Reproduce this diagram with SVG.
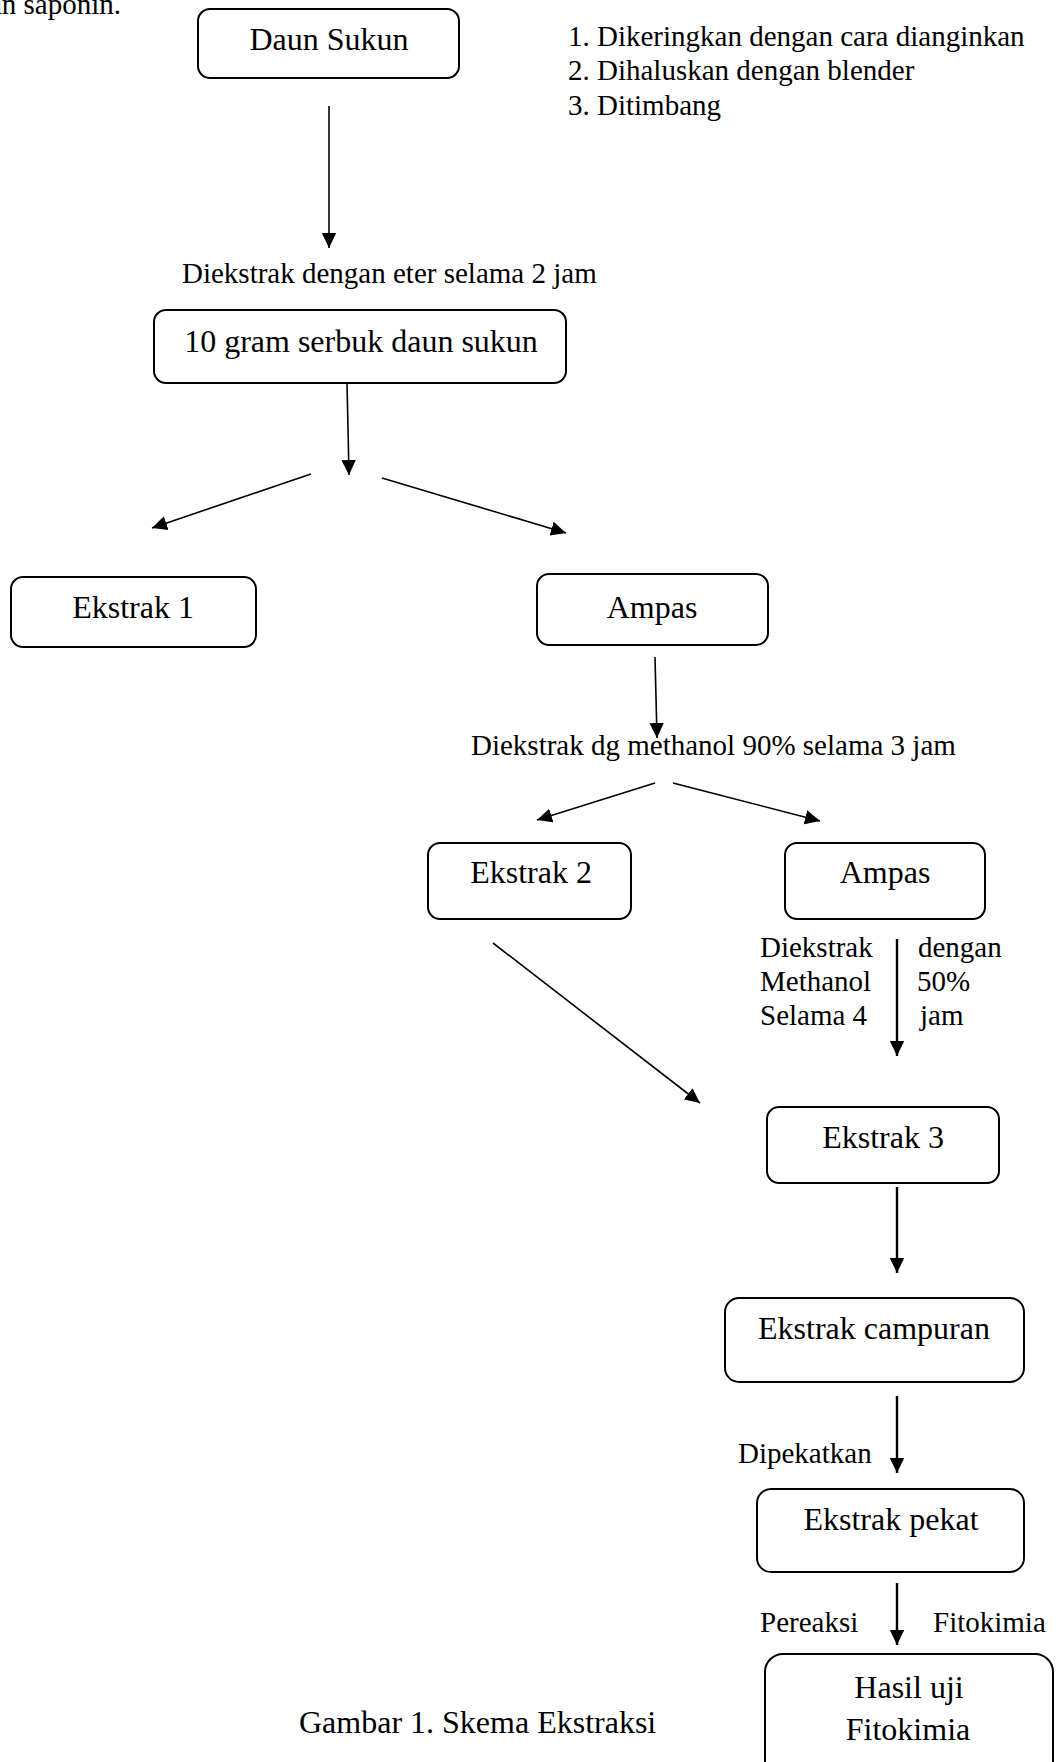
<svg xmlns="http://www.w3.org/2000/svg" width="1056" height="1762" viewBox="0 0 1056 1762">
<style>
text{font-family:"Liberation Serif","Times New Roman",serif;fill:#000}
.bt{font-size:32px;text-anchor:middle}
.lb{font-size:29px}
.box{fill:#fff;stroke:#000;stroke-width:2}
.c{stroke:#000;stroke-width:1.6;fill:none;marker-end:url(#ah)}
.ct{stroke:#000;stroke-width:2.4;fill:none;marker-end:url(#ah)}
</style>
<defs>
<marker id="ah" markerUnits="userSpaceOnUse" markerWidth="16" markerHeight="16" viewBox="0 0 16 16" refX="15" refY="8" orient="auto">
<path d="M0,0.8 L15,8 L0,15.2 Z" fill="#000"/>
</marker>
</defs>
<rect width="1056" height="1762" fill="#fff"/>
<text class="lb" x="121" y="14" text-anchor="end">an saponin.</text>
<g id="list">
<text class="lb" x="568" y="46">1. Dikeringkan dengan cara dianginkan</text>
<text class="lb" x="568" y="80">2. Dihaluskan dengan blender</text>
<text class="lb" x="568" y="115">3. Ditimbang</text>
</g>
<g id="n-daun-sukun"><rect class="box" x="198" y="9" width="261" height="69" rx="12"/><text class="bt" x="329" y="50">Daun Sukun</text></g>
<text class="lb" x="182" y="283">Diekstrak dengan eter selama 2 jam</text>
<g id="n-serbuk"><rect class="box" x="154" y="310" width="412" height="73" rx="12"/><text class="bt" x="361" y="352">10 gram serbuk daun sukun</text></g>
<g id="n-ekstrak1"><rect class="box" x="11" y="577" width="245" height="70" rx="12"/><text class="bt" x="133" y="618">Ekstrak 1</text></g>
<g id="n-ampas1"><rect class="box" x="537" y="574" width="231" height="71" rx="12"/><text class="bt" x="652" y="618">Ampas</text></g>
<text class="lb" x="471" y="755">Diekstrak dg methanol 90%  selama 3 jam</text>
<g id="n-ekstrak2"><rect class="box" x="428" y="843" width="203" height="76" rx="12"/><text class="bt" x="531" y="883">Ekstrak 2</text></g>
<g id="n-ampas2"><rect class="box" x="785" y="843" width="200" height="76" rx="12"/><text class="bt" x="885" y="883">Ampas</text></g>
<g id="lbl-methanol50">
<text class="lb" x="760" y="957">Diekstrak</text>
<text class="lb" x="760" y="991">Methanol</text>
<text class="lb" x="760" y="1025">Selama 4</text>
<text class="lb" x="918" y="957">dengan</text>
<text class="lb" x="917" y="991">50%</text>
<text class="lb" x="920" y="1025">jam</text>
</g>
<g id="n-ekstrak3"><rect class="box" x="767" y="1107" width="232" height="76" rx="12"/><text class="bt" x="883" y="1148">Ekstrak 3</text></g>
<g id="n-campuran"><rect class="box" x="725" y="1298" width="299" height="84" rx="14"/><text class="bt" x="874" y="1339">Ekstrak campuran</text></g>
<text class="lb" x="738" y="1463">Dipekatkan</text>
<g id="n-pekat"><rect class="box" x="757" y="1489" width="267" height="83" rx="14"/><text class="bt" x="891" y="1530">Ekstrak pekat</text></g>
<text class="lb" x="760" y="1632">Pereaksi</text>
<text class="lb" x="933" y="1632">Fitokimia</text>
<g id="n-hasil"><rect class="box" x="765" y="1654" width="288" height="130" rx="18"/><text class="bt" x="909" y="1698">Hasil uji</text><text class="bt" x="908" y="1740">Fitokimia</text></g>
<text x="299" y="1733" font-size="32">Gambar 1. Skema Ekstraksi</text>
<g id="connectors">
<line class="c" x1="329" y1="106" x2="329" y2="248"/>
<line class="c" x1="347" y1="383" x2="349" y2="475"/>
<line class="c" x1="311" y1="474" x2="152" y2="528"/>
<line class="c" x1="382" y1="478" x2="566" y2="533"/>
<line class="c" x1="655" y1="657" x2="657" y2="738"/>
<line class="c" x1="655" y1="783" x2="537" y2="820"/>
<line class="c" x1="673" y1="783" x2="820" y2="821"/>
<line class="ct" x1="897" y1="939" x2="897" y2="1056"/>
<line class="c" x1="493" y1="943" x2="700" y2="1103"/>
<line class="ct" x1="897" y1="1187" x2="897" y2="1273"/>
<line class="ct" x1="897" y1="1396" x2="897" y2="1473"/>
<line class="ct" x1="897" y1="1583" x2="897" y2="1645"/>
</g>
</svg>
